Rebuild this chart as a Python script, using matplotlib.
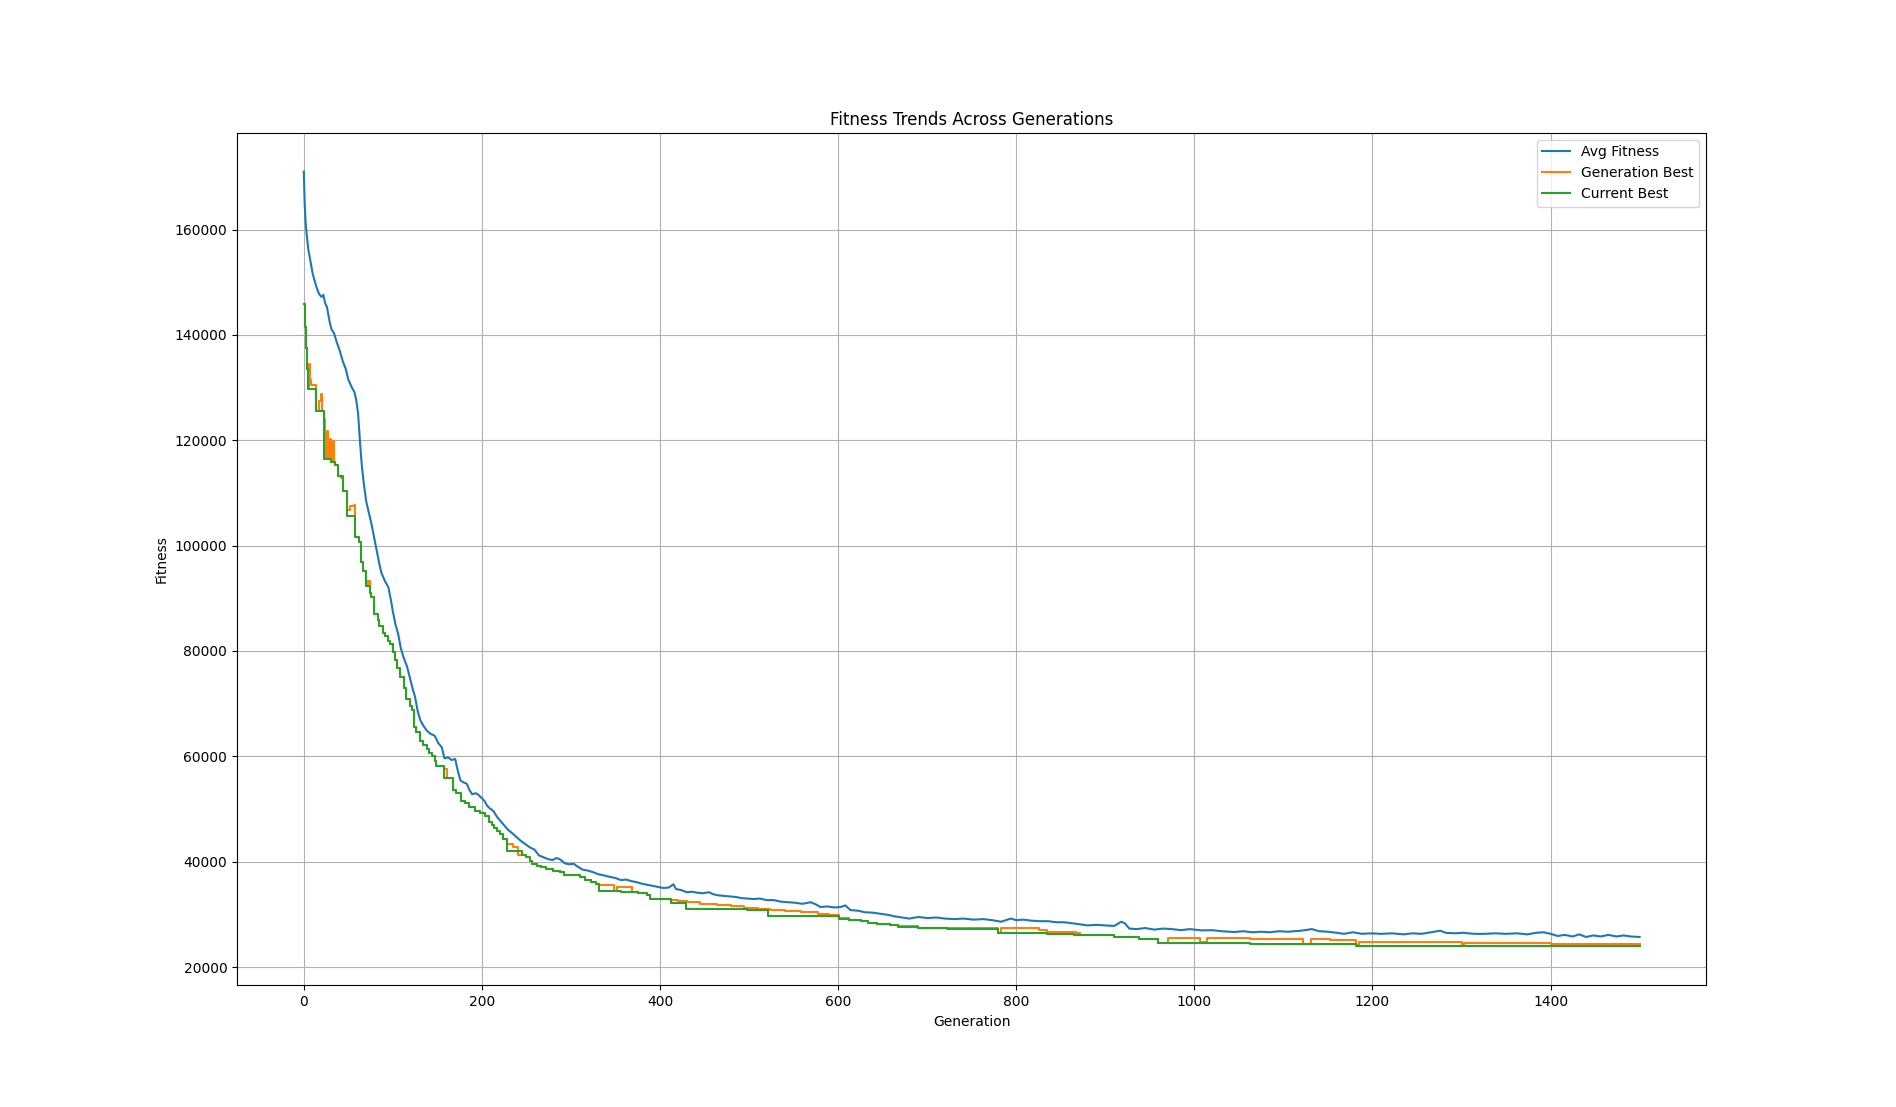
import matplotlib
matplotlib.use('Agg')  # Non-interactive backend
import matplotlib.pyplot as plt

# Avg fitness per generation (sampled readings)
avg_gen = [0, 1, 2, 3, 5, 8, 10, 14, 17, 20, 22, 24, 26, 29, 31, 34, 37, 40, 44, 47,
           50, 54, 57, 59, 61, 63, 65, 67, 70, 72, 76, 79, 82, 85, 87, 91, 95, 98, 100, 103,
           106, 109, 112, 116, 119, 122, 125, 128, 131, 134, 138, 142, 147, 151, 155, 158, 162, 166, 170, 173,
           176, 180, 183, 186, 189, 193, 196, 199, 203, 206, 209, 213, 217, 221, 225, 229, 234, 239, 244, 249,
           254, 259, 264, 269, 274, 279, 284, 288, 293, 298, 303, 308, 313, 319, 325, 331, 337, 344, 350, 356,
           362, 368, 374, 380, 386, 392, 398, 404, 410, 415, 418, 424, 430, 436, 442, 448, 455, 460, 466, 472,
           478, 485, 491, 498, 505, 512, 520, 528, 536, 544, 552, 560, 569, 575, 580, 588, 596, 603, 608, 614,
           622, 630, 640, 648, 656, 664, 672, 680, 690, 700, 710, 720, 730, 741, 752, 763, 773, 783, 794, 800,
           808, 817, 826, 836, 845, 854, 863, 872, 880, 890, 900, 910, 918, 922, 927, 935, 945, 955, 965, 975,
           985, 995, 1008, 1020, 1030, 1045, 1055, 1065, 1075, 1085, 1095, 1105, 1120, 1132, 1140, 1150, 1160, 1168, 1178, 1188,
           1198, 1210, 1222, 1235, 1245, 1255, 1266, 1276, 1282, 1292, 1302, 1314, 1326, 1338, 1350, 1362, 1374, 1384, 1392, 1400,
           1408, 1416, 1425, 1432, 1440, 1448, 1456, 1465, 1474, 1482, 1490, 1500]
avg_fit = [171000, 165000, 161500, 159500, 156300, 153500, 151600, 149200, 147800, 147200, 147600, 146000, 145300, 142500, 141100, 140300, 138600, 137200, 134900, 133600,
           131500, 130000, 129100, 127500, 125000, 120000, 115500, 112300, 108500, 107000, 104100, 101500, 99000, 96400, 94900, 93300, 92100, 89500, 87500, 85000,
           83200, 80500, 78800, 77000, 75000, 73000, 71200, 68500, 66800, 65900, 64900, 64300, 63900, 62500, 61700, 59600, 59800, 59300, 59500, 57200,
           55400, 55000, 54800, 53600, 52800, 53000, 52700, 52200, 51500, 50600, 50100, 49600, 48500, 47700, 46900, 46100, 45400, 44650, 43900, 43300,
           42700, 42300, 41200, 40850, 40500, 40300, 40700, 40400, 39700, 39500, 39600, 39000, 38500, 38300, 38000, 37600, 37400, 37100, 36900, 36500,
           36600, 36300, 36100, 35800, 35600, 35400, 35200, 35000, 35100, 35700, 34800, 34600, 34200, 34300, 34100, 34000, 34200, 33800, 33600, 33500,
           33400, 33300, 33100, 33000, 32900, 33000, 32700, 32700, 32400, 32300, 32200, 32000, 32300, 31900, 31400, 31500, 31300, 31400, 31700, 30800,
           30700, 30400, 30300, 30100, 29900, 29600, 29400, 29200, 29500, 29300, 29400, 29200, 29100, 29200, 29000, 29100, 28900, 28600, 29200, 28900,
           29000, 28800, 28700, 28700, 28500, 28500, 28300, 28100, 27900, 28000, 27900, 27800, 28600, 28300, 27300, 27200, 27400, 27100, 27300, 27200,
           27000, 27200, 26950, 27000, 26800, 26650, 26800, 26600, 26700, 26600, 26800, 26700, 26900, 27200, 26800, 26700, 26500, 26300, 26600, 26300,
           26400, 26300, 26400, 26200, 26400, 26300, 26600, 26900, 26500, 26400, 26500, 26300, 26300, 26400, 26300, 26400, 26200, 26500, 26600, 26300,
           25900, 26100, 25800, 26200, 25700, 26000, 25800, 26100, 25800, 26000, 25800, 25700]

# Generation best: generation where value changes, and new value
gen_best_gen = [0, 1, 2, 3, 4, 5, 6, 7, 8, 14, 17, 19, 21, 23, 24, 26, 27, 29, 30, 33,
                34, 35, 38, 42, 44, 49, 52, 56, 58, 62, 64, 67, 70, 72, 74, 76, 79, 83, 85, 89,
                91, 95, 97, 100, 102, 105, 108, 112, 115, 119, 121, 124, 126, 130, 134, 138, 141, 144, 147, 149,
                157, 161, 167, 171, 177, 181, 186, 192, 198, 204, 208, 211, 214, 217, 220, 224, 228, 235, 240, 250,
                254, 256, 262, 266, 272, 280, 288, 292, 310, 316, 322, 328, 331, 348, 352, 368, 375, 385, 389, 408,
                412, 420, 430, 445, 464, 480, 494, 510, 524, 540, 558, 577, 590, 601, 612, 626, 633, 644, 658, 667,
                690, 722, 779, 783, 826, 835, 867, 872, 910, 938, 959, 970, 1006, 1014, 1062, 1122, 1131, 1152, 1181, 1185,
                1300, 1303, 1401, 1500]
gen_best_fit = [145900, 141500, 138500, 137600, 133500, 129700, 134500, 131400, 130500, 125600, 127500, 128800, 125600, 124000, 116400, 121800, 116400, 120200, 115800, 119800,
                115800, 115300, 113300, 112800, 110400, 106800, 107600, 107800, 101600, 100600, 96800, 95200, 92400, 93200, 91000, 90200, 87000, 85800, 84800, 83500,
                82900, 81800, 81300, 79800, 78200, 76800, 75000, 73000, 70900, 69600, 68700, 65500, 64600, 63000, 62200, 61400, 60700, 60150, 59200, 58250,
                57600, 55900, 53600, 53100, 51500, 51100, 50300, 49700, 49200, 48600, 47600, 47000, 46300, 45900, 45200, 44300, 43400, 42800, 41300, 40900,
                40200, 39600, 39200, 38900, 38650, 38300, 38000, 37400, 37100, 36600, 36100, 35700, 35500, 34500, 35200, 34300, 34000, 33600, 32960, 32830,
                32640, 32500, 32300, 32000, 31700, 31500, 31250, 31100, 30800, 30600, 30400, 30100, 29900, 29300, 28900, 28700, 28400, 28080, 27890, 27700,
                27500, 27400, 26500, 27350, 27080, 26650, 26430, 26000, 25700, 25370, 24600, 25550, 24700, 25550, 25300, 24450, 25300, 25100, 24100, 24730,
                24100, 24650, 24420, 24300]

# Current (all-time) best
cur_best_gen = [0, 1, 2, 3, 4, 5, 14, 23, 30, 35, 38, 44, 49, 58, 62, 64, 67, 70, 74, 76,
                79, 83, 85, 89, 91, 95, 97, 100, 102, 105, 108, 112, 115, 119, 121, 124, 126, 130, 134, 138,
                141, 144, 147, 149, 157, 167, 171, 177, 181, 186, 192, 198, 204, 208, 211, 214, 217, 220, 224, 228,
                245, 250, 254, 256, 262, 266, 272, 280, 288, 292, 310, 316, 322, 328, 331, 356, 375, 385, 389, 408,
                412, 429, 498, 521, 601, 612, 626, 633, 644, 658, 667, 690, 722, 780, 835, 865, 910, 938, 959, 1062,
                1182, 1500]
cur_best_fit = [145900, 141500, 138500, 137600, 133500, 129700, 125600, 116400, 115800, 115300, 113300, 110400, 105600, 101600, 100600, 96800, 95200, 92400, 91000, 90200,
                87000, 85800, 84800, 83500, 82900, 81800, 81300, 79800, 78200, 76800, 75000, 73000, 70900, 69600, 68700, 65500, 64600, 63000, 62200, 61400,
                60700, 60150, 59200, 58250, 55900, 53600, 53100, 51500, 51100, 50300, 49700, 49200, 48600, 47600, 47000, 46300, 45900, 45200, 44300, 42000,
                41300, 40900, 40200, 39600, 39200, 38900, 38650, 38300, 38000, 37400, 37100, 36600, 36100, 35700, 34400, 34200, 34000, 33600, 32960, 32830,
                32130, 31060, 30800, 29660, 29100, 28900, 28700, 28400, 28080, 27890, 27570, 27450, 27270, 26400, 26200, 26000, 25700, 25370, 24540, 24420,
                23900, 23900]

fig = plt.figure(figsize=(18.96, 11.07), dpi=100)
plt.plot(avg_gen, avg_fit, label='Avg Fitness')
plt.plot(gen_best_gen, gen_best_fit, drawstyle='steps-post', label='Generation Best')
plt.plot(cur_best_gen, cur_best_fit, drawstyle='steps-post', label='Current Best')

plt.xlabel('Generation')
plt.ylabel('Fitness')
plt.title('Fitness Trends Across Generations')
plt.legend(loc='upper right')
plt.grid(True)

plt.savefig('out.png', dpi=100)
plt.close()
